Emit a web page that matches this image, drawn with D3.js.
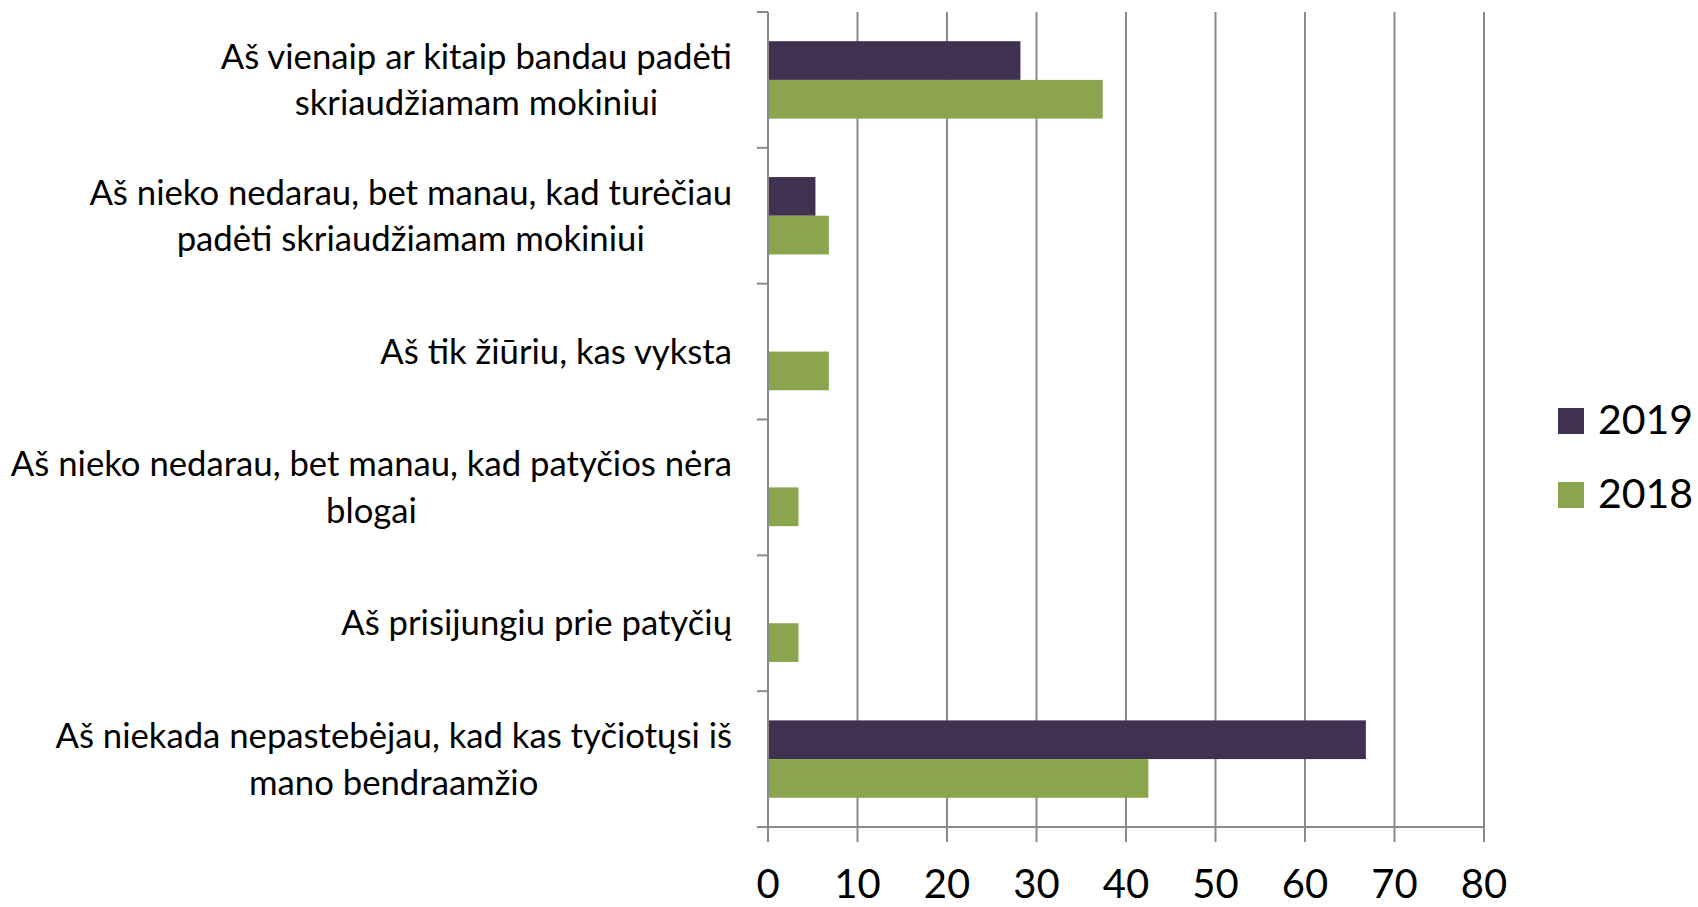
<!DOCTYPE html>
<html>
<head>
<meta charset="utf-8">
<script src="https://cdn.jsdelivr.net/npm/d3@7"></script>
<style>
  body { margin: 0; background: #fff; }
  text { font-family: Lato, "Open Sans", sans-serif; fill: #000; }
</style>
</head>
<body>
<div id="chart"></div>
<script>
// categories, top to bottom (each split into the lines shown)
var categories = [
  ["Aš vienaip ar kitaip bandau padėti", "skriaudžiamam mokiniui"],
  ["Aš nieko nedarau, bet manau, kad turėčiau", "padėti skriaudžiamam mokiniui"],
  ["Aš tik žiūriu, kas vyksta"],
  ["Aš nieko nedarau, bet manau, kad patyčios nėra", "blogai"],
  ["Aš prisijungiu prie patyčių"],
  ["Aš niekada nepastebėjau, kad kas tyčiotųsi iš", "mano bendraamžio"]
];
var series = ["2019", "2018"];
var values2019 = [28.2, 5.3, 0, 0, 0, 66.8];
var values2018 = [37.4, 6.8, 6.8, 3.4, 3.4, 42.5];
var xTicks = [0, 10, 20, 30, 40, 50, 60, 70, 80];
var colors = ["#403151", "#8ba54e"];

var width = 1698, height = 907;
var margin = {top: 12, right: 214, bottom: 80, left: 768};

var svg = d3.select("#chart")
  .append("svg")
    .attr("width", width)
    .attr("height", height);

var x = d3.scaleLinear()
  .domain([0, 80])
  .range([margin.left, width - margin.right]);

var y = d3.scaleBand()
  .domain(d3.range(categories.length))
  .range([margin.top, height - margin.bottom])
  .paddingInner(0.43)
  .paddingOuter(0.215);

var ySub = d3.scaleBand()
  .domain(series)
  .range([0, y.bandwidth()]);

var lineColor = "#8a8a8a";
var y0 = margin.top, y1 = height - margin.bottom;

// vertical gridlines (with the tick below the axis)
svg.append("g")
  .selectAll("line")
  .data(xTicks.slice(1))
  .enter()
  .append("line")
    .attr("x1", d => x(d)).attr("x2", d => x(d))
    .attr("y1", y0).attr("y2", y1 + 15)
    .attr("stroke", lineColor)
    .attr("stroke-width", 2);

// bars
var rows = categories.map((c, i) => ({i: i, vals: [values2019[i], values2018[i]]}));
var groups = svg.append("g")
  .selectAll("g")
  .data(rows)
  .enter()
  .append("g")
    .attr("transform", d => `translate(0, ${y(d.i)})`);

groups.selectAll("rect")
  .data(d => d.vals.map((v, k) => ({s: series[k], v: v, k: k})).filter(e => e.v > 0))
  .enter()
  .append("rect")
    .attr("x", x(0))
    .attr("y", d => ySub(d.s))
    .attr("width", d => x(d.v) - x(0))
    .attr("height", ySub.bandwidth())
    .attr("fill", d => colors[d.k]);

// category axis: line + ticks at band boundaries
svg.append("line")
  .attr("x1", x(0)).attr("x2", x(0))
  .attr("y1", y0).attr("y2", y1 + 15)
  .attr("stroke", lineColor).attr("stroke-width", 2);

svg.append("g")
  .selectAll("line")
  .data(d3.range(categories.length + 1))
  .enter()
  .append("line")
    .attr("x1", x(0) - 11).attr("x2", x(0))
    .attr("y1", d => y0 + d * y.step()).attr("y2", d => y0 + d * y.step())
    .attr("stroke", lineColor).attr("stroke-width", 2);

// value axis line
svg.append("line")
  .attr("x1", x(0) - 11).attr("x2", x(80))
  .attr("y1", y1).attr("y2", y1)
  .attr("stroke", lineColor).attr("stroke-width", 2);

// value tick labels
svg.append("g")
  .selectAll("text")
  .data(xTicks)
  .enter()
  .append("text")
    .attr("x", d => x(d))
    .attr("y", 898)
    .attr("text-anchor", "middle")
    .style("font-size", "40px")
    .text(d => d);

// category labels, centred block, right edge at 732
var labelRight = 732, lineH = 46.6;
categories.forEach(function(lines, i) {
  var g = svg.append("g");
  var texts = lines.map(function(t, j) {
    return g.append("text")
      .attr("y", y(i) + y.bandwidth() / 2 + (j - (lines.length - 1) / 2) * lineH)
      .attr("dy", "0.35em")
      .attr("text-anchor", "middle")
      .style("font-size", "34.7px")
      .text(t);
  });
  var maxW = d3.max(texts, t => t.node().getComputedTextLength());
  texts.forEach(t => t.attr("x", labelRight - maxW / 2));
});

// legend
var legend = svg.append("g")
  .selectAll("g")
  .data(series)
  .enter()
  .append("g")
    .attr("transform", (d, i) => `translate(1558, ${408 + i * 74})`);

legend.append("rect")
  .attr("width", 26).attr("height", 26)
  .attr("fill", (d, i) => colors[i]);

legend.append("text")
  .attr("x", 40)
  .attr("y", 26)
  .style("font-size", "41px")
  .text(d => d);
</script>
</body>
</html>
